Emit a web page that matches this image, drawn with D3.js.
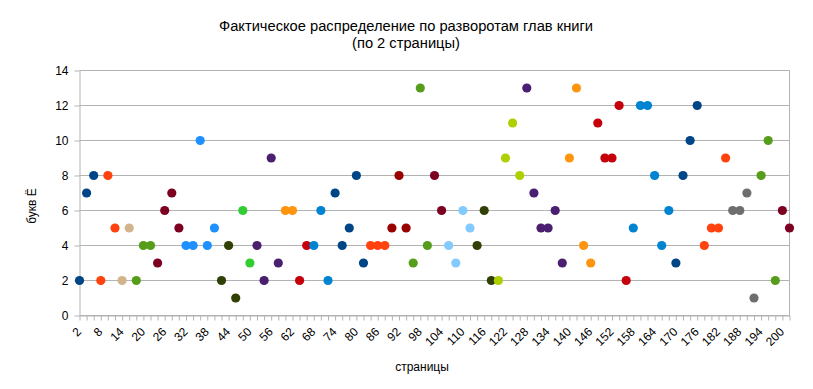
<!DOCTYPE html>
<html><head><meta charset="utf-8">
<script src="https://cdn.jsdelivr.net/npm/d3@7"></script>
<style>
body{margin:0;background:#fff}
text{font-family:"Liberation Sans",Arial,sans-serif;fill:#000}
</style>
</head><body>
<svg id="c" width="813" height="389"></svg>
<script>
// Categories: pages (two-page spreads)
const pages = [2,4,6,8,10,12,14,16,18,20,22,24,26,28,30,32,34,36,38,40,
  42,44,46,48,50,52,54,56,58,60,62,64,66,68,70,72,74,76,78,80,
  82,84,86,88,90,92,94,96,98,100,102,104,106,108,110,112,114,116,118,120,
  122,124,126,128,130,132,134,136,138,140,142,144,146,148,150,152,154,156,158,160,
  162,164,166,168,170,172,174,176,178,180,182,184,186,188,190,192,194,196,198,200,202];
// Number of letters Ё per spread
const letters = [2,7,8,2,8,5,2,5,2,4,4,3,6,7,5,4,4,10,4,5,
  2,4,1,6,3,4,2,9,3,6,6,2,4,4,6,2,7,4,5,8,
  3,4,4,4,5,8,5,3,13,4,8,6,4,3,6,5,4,6,2,2,
  9,11,8,13,7,5,5,6,3,9,13,4,3,11,9,9,12,2,5,12,
  12,8,4,6,3,8,10,12,4,5,5,9,6,6,7,1,8,10,2,6,5];
// Chapter index of each spread
const chapter = [0,0,0,1,1,1,2,2,3,3,3,4,4,4,4,5,5,5,5,5,
  6,6,6,7,7,8,8,8,8,9,9,10,10,11,11,11,12,12,12,12,
  12,13,13,13,14,14,14,15,15,15,16,16,17,17,17,17,18,18,18,19,
  19,19,19,20,20,20,20,20,20,21,21,21,21,22,22,22,22,22,23,23,
  23,23,23,23,24,24,24,24,25,25,25,25,26,26,26,26,27,27,27,28,28];
const yTicks = [0,2,4,6,8,10,12,14];
const xTickLabels = [2,8,14,20,26,32,38,44,50,56,62,68,74,80,86,92,98,104,110,116,
  122,128,134,140,146,152,158,164,170,176,182,188,194,200];

// Styles
const chapterColors = ["#004586","#ff420e","#d2b48c","#579d1c","#7e0021","#1e90ff",
  "#314004","#32cd32","#4b1f6f","#ff950e","#c5000b","#0084d1",
  "#004586","#ff420e","#990000","#579d1c","#7e0021","#83caff",
  "#314004","#aecf00","#4b1f6f","#ff950e","#c5000b","#0084d1",
  "#004586","#ff420e","#6e6e6e","#579d1c","#7e0021"];
const gridColor = "#b3b3b3";
const L = 79.5, R = 789.5, T = 70.5, B = 315.5;

const svg = d3.select("#c");
const x = d3.scalePoint().domain(pages).range([L, R]).padding(0);
const y = d3.scaleLinear().domain([0,14]).range([B, T]);

// gridlines
svg.append("g").selectAll("line").data(yTicks).join("line")
  .attr("x1", L).attr("x2", R)
  .attr("y1", d => y(d)).attr("y2", d => y(d))
  .attr("stroke", gridColor).attr("stroke-width", 1);
// right border
svg.append("line").attr("x1", R).attr("x2", R).attr("y1", T).attr("y2", B)
  .attr("stroke", gridColor);

// y axis
const ya = svg.append("g").attr("transform", `translate(${L},0)`)
  .call(d3.axisLeft(y).tickValues(yTicks).tickSize(5).tickSizeOuter(0).tickPadding(6));
ya.select(".domain").attr("stroke", gridColor);
ya.selectAll(".tick line").attr("stroke", gridColor);
ya.selectAll(".tick text").attr("font-size", 12).attr("fill", "#000")
  .style("font-family", '"Liberation Sans",Arial,sans-serif');

// x axis
const xa = svg.append("g").attr("transform", `translate(0,${B})`)
  .call(d3.axisBottom(x).tickValues(pages).tickSize(5).tickSizeOuter(0)
    .tickFormat(d => xTickLabels.includes(d) ? String(d) : ""));
xa.select(".domain").attr("stroke", gridColor);
xa.selectAll(".tick line").attr("stroke", gridColor);
xa.selectAll(".tick text")
  .attr("font-size", 12).attr("fill", "#000")
  .style("font-family", '"Liberation Sans",Arial,sans-serif')
  .attr("text-anchor", "end")
  .attr("dy", "0.35em")
  .attr("transform", "translate(-1,14) rotate(-45)")
  .attr("y", 0).attr("x", 0);

// points
svg.append("g").selectAll("circle").data(pages).join("circle")
  .attr("cx", d => x(d))
  .attr("cy", (d, i) => y(letters[i]))
  .attr("r", 4.6)
  .attr("fill", (d, i) => chapterColors[chapter[i]]);

// titles
svg.append("text").attr("x", 406).attr("y", 31).attr("text-anchor", "middle")
  .attr("font-size", 14.7).text("Фактическое распределение по разворотам глав книги");
svg.append("text").attr("x", 406).attr("y", 48).attr("text-anchor", "middle")
  .attr("font-size", 14.7).text("(по 2 страницы)");
svg.append("text").attr("x", 422).attr("y", 371).attr("text-anchor", "middle")
  .attr("font-size", 12).text("страницы");
svg.append("text").attr("transform", "translate(36,206) rotate(-90)")
  .attr("text-anchor", "middle").attr("font-size", 12).text("букв Ё");
</script>
</body></html>
